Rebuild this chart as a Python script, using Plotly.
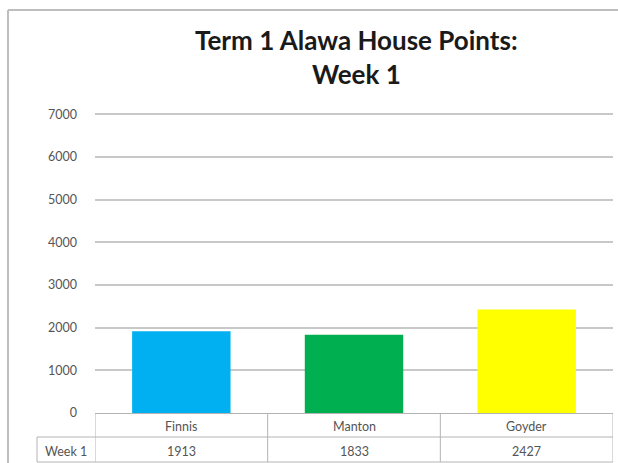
import plotly.graph_objects as go

categories = ["Finnis", "Manton", "Goyder"]
points = [1913, 1833, 2427]
series_name = "Week 1"
bar_colors = ["#00B0F0", "#00B050", "#FFFF00"]
title_lines = ["Term 1 Alawa House Points:", "Week 1"]
y_ticks = [0, 1000, 2000, 3000, 4000, 5000, 6000, 7000]

W, H = 618, 463
Y_MAX = 7000
Y_TOP = 7030
L, R, B = 95, 5, 50
# place 7000 at y=114 px while the range extends slightly above
T = 114 - round((Y_TOP - Y_MAX) / Y_MAX * (H - B - 114))
PW, PH = W - L - R, H - T - B


def px(x):
    return (x - L) / PW


def py(y):
    return (H - B - y) / PH


FONT = "Lato, 'Open Sans', sans-serif"
GRID = "#C8C8C8"
LINE = "#B4B4B4"
TXT = "#555555"

fig = go.Figure()
fig.add_trace(go.Bar(
    x=categories, y=points, name=series_name,
    marker=dict(color=bar_colors, line=dict(width=0)),
    width=0.57, showlegend=False, hoverinfo="x+y",
))

shapes = []
# chart border (top + left)
shapes.append(dict(type="line", xref="paper", yref="paper", x0=px(8), x1=px(618), y0=py(10), y1=py(10),
                   line=dict(color="#BEBEBE", width=2)))
shapes.append(dict(type="line", xref="paper", yref="paper", x0=px(8), x1=px(8), y0=py(10), y1=py(463),
                   line=dict(color="#BEBEBE", width=2)))

# data table grid
row_mid, row_bot, col_left = 437, 462, 37
for yy in (row_mid, row_bot):
    shapes.append(dict(type="line", xref="paper", yref="paper", x0=px(col_left), x1=1, y0=py(yy), y1=py(yy),
                       line=dict(color=LINE, width=1)))
shapes.append(dict(type="line", xref="paper", yref="paper", x0=px(col_left), x1=px(col_left),
                   y0=py(row_mid), y1=py(row_bot), line=dict(color=LINE, width=1)))
for i in range(len(categories) + 1):
    shapes.append(dict(type="line", xref="x", yref="paper", x0=i - 0.5, x1=i - 0.5, y0=0, y1=py(row_bot),
                       line=dict(color=LINE, width=1)))

annotations = []
for t, yy in [(title_lines[0], 40), (title_lines[1], 74)]:
    annotations.append(dict(text="<b>" + t + "</b>", xref="paper", yref="paper", x=px(356), y=py(yy),
                            showarrow=False, font=dict(family=FONT, size=26, color="#1a1a1a"),
                            xanchor="center", yanchor="middle"))
for i, (c, v) in enumerate(zip(categories, points)):
    annotations.append(dict(text=c, xref="x", yref="paper", x=i, y=py(426), showarrow=False,
                            font=dict(family=FONT, size=12.5, color=TXT), xanchor="center", yanchor="middle"))
    annotations.append(dict(text=str(v), xref="x", yref="paper", x=i, y=py(451), showarrow=False,
                            font=dict(family=FONT, size=12.5, color=TXT), xanchor="center", yanchor="middle"))
annotations.append(dict(text=series_name, xref="paper", yref="paper", x=px(66), y=py(451), showarrow=False,
                        font=dict(family=FONT, size=12.5, color=TXT), xanchor="center", yanchor="middle"))

fig.update_layout(
    width=W, height=H,
    margin=dict(l=L, r=R, t=T, b=B, pad=0),
    paper_bgcolor="white", plot_bgcolor="white",
    xaxis=dict(type="category", showticklabels=False, showgrid=False, zeroline=False,
               showline=True, linecolor=LINE, linewidth=1, ticks="", range=[-0.5, 2.5]),
    yaxis=dict(range=[0, Y_TOP], tickvals=y_ticks, showgrid=True, gridcolor=GRID, gridwidth=1.5,
               zeroline=False, showline=False, ticks="",
               tickfont=dict(family=FONT, size=12.5, color=TXT), ticklabelstandoff=17),
    shapes=shapes, annotations=annotations,
    font=dict(family=FONT),
)

fig.write_html("out.html", config={"displayModeBar": False},
               post_script="document.body.style.margin='0';document.body.style.overflow='hidden';")
